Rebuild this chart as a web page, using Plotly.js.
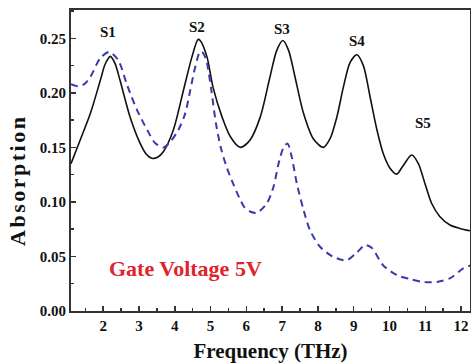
<!DOCTYPE html>
<html>
<head>
<meta charset="utf-8">
<script src="https://cdn.plot.ly/plotly-3.0.1.min.js"></script>
<style>
  html, body { margin: 0; padding: 0; background: #fff; }
  #chart { width: 471px; height: 363px; }
</style>
</head>
<body>
<div id="chart"></div>
<script>
// Solid black curve (absorption spectrum, peaks S1..S5)
const freqSolid = [1.10, 1.36, 1.64, 1.92, 2.05, 2.20, 2.33, 2.47, 2.75, 3.03, 3.20, 3.36, 3.52, 3.68, 3.96, 4.24, 4.48, 4.65, 4.71, 4.90, 5.07, 5.32, 5.55, 5.83, 6.10, 6.39, 6.66, 6.85, 7.02, 7.18, 7.36, 7.60, 7.87, 8.15, 8.34, 8.53, 8.71, 8.90, 9.09, 9.27, 9.46, 9.65, 9.83, 10.02, 10.20, 10.39, 10.62, 10.81, 10.99, 11.18, 11.41, 11.69, 11.97, 12.25];
const absSolid = [0.135, 0.157, 0.181, 0.2115, 0.226, 0.2335, 0.227, 0.2115, 0.178, 0.154, 0.144, 0.140, 0.141, 0.146, 0.166, 0.202, 0.233, 0.249, 0.248, 0.233, 0.205, 0.178, 0.160, 0.150, 0.1566, 0.178, 0.2146, 0.239, 0.248, 0.239, 0.2146, 0.181, 0.158, 0.150, 0.158, 0.178, 0.205, 0.228, 0.235, 0.225, 0.196, 0.166, 0.144, 0.1307, 0.1255, 0.1337, 0.143, 0.135, 0.117, 0.0986, 0.0864, 0.0788, 0.0757, 0.0735];

// Dashed blue curve
const freqDash = [1.10, 1.30, 1.47, 1.64, 1.92, 2.17, 2.42, 2.67, 2.95, 3.23, 3.45, 3.68, 3.87, 4.10, 4.29, 4.43, 4.57, 4.71, 4.78, 4.88, 5.02, 5.15, 5.30, 5.46, 5.64, 5.80, 5.95, 6.12, 6.29, 6.57, 6.76, 6.90, 7.04, 7.15, 7.27, 7.41, 7.60, 7.78, 8.06, 8.43, 8.80, 9.10, 9.32, 9.51, 9.82, 10.20, 10.57, 10.94, 11.33, 11.69, 12.06, 12.28];
const absDash = [0.208, 0.206, 0.208, 0.2146, 0.232, 0.2375, 0.230, 0.207, 0.184, 0.166, 0.154, 0.150, 0.155, 0.166, 0.181, 0.202, 0.2235, 0.238, 0.237, 0.230, 0.203, 0.172, 0.148, 0.131, 0.116, 0.104, 0.095, 0.091, 0.090, 0.0986, 0.114, 0.135, 0.150, 0.1535, 0.141, 0.117, 0.0925, 0.074, 0.0589, 0.0497, 0.0465, 0.054, 0.0604, 0.0577, 0.042, 0.033, 0.0293, 0.0266, 0.0266, 0.030, 0.039, 0.042];

// Peak labels
const peakLabels = ["S1", "S2", "S3", "S4", "S5"];
const peakLabelX = [2.14, 4.63, 7.00, 9.09, 10.94];
const peakLabelY = [0.2555, 0.260, 0.259, 0.248, 0.172];

const xTitle = "Frequency (THz)";
const yTitle = "Absorption";
const noteText = "Gate Voltage 5V";

const serif = "Liberation Serif, Times New Roman, serif";

const traces = [
  {
    x: freqSolid, y: absSolid, type: "scatter", mode: "lines",
    line: { color: "#111111", width: 1.6, shape: "spline", smoothing: 0.8 },
    hoverinfo: "skip", showlegend: false
  },
  {
    x: freqDash, y: absDash, type: "scatter", mode: "lines",
    line: { color: "#3a3aa8", width: 2, dash: "7px,5px", shape: "spline", smoothing: 0.8 },
    hoverinfo: "skip", showlegend: false
  }
];

const annotations = peakLabels.map((t, i) => ({
  x: peakLabelX[i], y: peakLabelY[i], xref: "x", yref: "y",
  text: t, showarrow: false,
  font: { family: serif, size: 15, color: "#111", weight: "bold" }
}));
annotations.push({
  x: 4.29, y: 0.0394, xref: "x", yref: "y", text: noteText, showarrow: false,
  font: { family: serif, size: 22, color: "#e0242c", weight: "bold" }
});
annotations.push({
  x: -0.133, y: 0.4336, xref: "paper", yref: "paper", text: yTitle, showarrow: false,
  xanchor: "center", yanchor: "middle",
  textangle: -90,
  font: { family: serif, size: 22, color: "#111", weight: "bold" }
});

const layout = {
  width: 471, height: 363,
  margin: { l: 71, r: 1, t: 10, b: 52 },
  paper_bgcolor: "#ffffff", plot_bgcolor: "#ffffff",
  showlegend: false,
  xaxis: {
    range: [1.1, 12.25], tick0: 0, dtick: 1,
    ticks: "inside", ticklen: 5, tickwidth: 1.5, tickcolor: "#333",
    minor: { dtick: 0.5, ticks: "inside", ticklen: 3, tickwidth: 1.5, tickcolor: "#333" },
    showline: true, linecolor: "#333", linewidth: 2, mirror: true,
    showgrid: false, zeroline: false,
    tickfont: { family: serif, size: 15, color: "#111", weight: "bold" },
    title: { text: xTitle, standoff: 15, font: { family: serif, size: 21, color: "#111", weight: "bold" } }
  },
  yaxis: {
    range: [0, 0.276], tick0: 0, dtick: 0.05, tickformat: ".2f",
    ticks: "inside", ticklen: 5, tickwidth: 1.5, tickcolor: "#333",
    minor: { dtick: 0.025, ticks: "inside", ticklen: 3, tickwidth: 1.5, tickcolor: "#333" },
    showline: true, linecolor: "#333", linewidth: 2, mirror: true,
    showgrid: false, zeroline: false,
    tickfont: { family: serif, size: 15, color: "#111", weight: "bold" }
  },
  annotations: annotations
};

Plotly.newPlot("chart", traces, layout, { staticPlot: true, displayModeBar: false }).then(function () {
  // widen the letter spacing of the vertical axis label, as in the reference
  document.querySelectorAll(".annotation-text").forEach(function (el) {
    if (el.textContent === yTitle) el.style.letterSpacing = "2.5px";
  });
});
</script>
</body>
</html>
